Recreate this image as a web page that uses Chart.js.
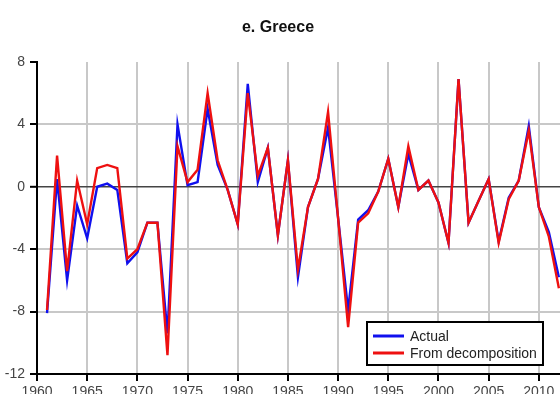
<!DOCTYPE html>
<html>
<head>
<meta charset="utf-8">
<script src="https://cdn.jsdelivr.net/npm/chart.js@4.4.1/dist/chart.umd.min.js"></script>
<style>
  html, body { margin: 0; padding: 0; background: #ffffff; overflow: hidden; }
  #wrap { position: relative; width: 609px; height: 394px; }
</style>
</head>
<body>
<div id="wrap"><canvas id="c"></canvas></div>
<script>
// Greece: annual values, actual vs. reconstructed from the decomposition
const titleText = 'e. Greece';
const years = [1961,1962,1963,1964,1965,1966,1967,1968,1969,1970,
               1971,1972,1973,1974,1975,1976,1977,1978,1979,1980,
               1981,1982,1983,1984,1985,1986,1987,1988,1989,1990,
               1991,1992,1993,1994,1995,1996,1997,1998,1999,2000,
               2001,2002,2003,2004,2005,2006,2007,2008,2009,2010,
               2011,2012];
const actual = [-8.1, 0.5,-6.0,-1.2,-3.3, 0.0, 0.2,-0.2,-4.9,-4.2,
                -2.3,-2.3,-9.4, 4.0, 0.1, 0.3, 5.0, 1.4,-0.2,-2.4,
                 6.6, 0.3, 2.5,-3.1, 1.7,-5.8,-1.3, 0.5, 3.8,-2.0,
                -7.9,-2.1,-1.5,-0.3, 1.8,-1.3, 2.1,-0.2, 0.4,-1.0,
                -3.6, 6.9,-2.3,-0.9, 0.5,-3.5,-0.7, 0.4, 3.9,-1.3,
                -2.9,-5.8];
const fromDecomposition = [-7.9, 2.0,-5.4, 0.4,-2.4, 1.2, 1.4, 1.2,-4.6,-4.0,
                -2.3,-2.3,-10.8, 2.6, 0.3, 1.1, 6.0, 1.7,-0.2,-2.4,
                 6.0, 0.7, 2.5,-3.1, 1.7,-5.3,-1.3, 0.5, 4.8,-2.0,
                -9.0,-2.3,-1.7,-0.3, 1.8,-1.3, 2.6,-0.2, 0.4,-1.0,
                -3.6, 6.9,-2.3,-0.9, 0.5,-3.6,-0.8, 0.4, 3.6,-1.3,
                -3.2,-6.5];
const seriesNames = ['Actual', 'From decomposition'];
const yTicks = [8, 4, 0, -4, -8, -12];

const FONT = "'Liberation Sans', Arial, sans-serif";

// Title and in-plot legend box
const decorations = {
  id: 'decorations',
  afterDraw(chart) {
    const ctx = chart.ctx;
    ctx.save();
    ctx.fillStyle = '#111';
    ctx.font = 'bold 16px ' + FONT;
    ctx.textAlign = 'center';
    ctx.textBaseline = 'middle';
    ctx.fillText(titleText, 278, 28);

    const bx = 367, by = 322, bw = 176, bh = 43;
    ctx.fillStyle = '#ffffff';
    ctx.fillRect(bx, by, bw, bh);
    ctx.strokeStyle = '#000';
    ctx.lineWidth = 2;
    ctx.strokeRect(bx, by, bw, bh);
    ctx.font = '14px ' + FONT;
    ctx.textAlign = 'left';
    chart.data.datasets.forEach((ds, i) => {
      const y = by + 14 + i * 17;
      ctx.strokeStyle = ds.borderColor;
      ctx.lineWidth = 3;
      ctx.beginPath();
      ctx.moveTo(bx + 6, y);
      ctx.lineTo(bx + 37, y);
      ctx.stroke();
      ctx.fillStyle = '#222';
      ctx.fillText(ds.label, bx + 43, y + 1);
    });
    ctx.restore();
  }
};

new Chart(document.getElementById('c'), {
  type: 'line',
  data: {
    datasets: [
      {
        label: seriesNames[0],
        data: years.map((yr, i) => ({ x: yr, y: actual[i] })),
        borderColor: '#1010ee',
        borderWidth: 2.4,
        pointRadius: 0,
        tension: 0,
        order: 2
      },
      {
        label: seriesNames[1],
        data: years.map((yr, i) => ({ x: yr, y: fromDecomposition[i] })),
        borderColor: '#ee1010',
        borderWidth: 2.4,
        pointRadius: 0,
        tension: 0,
        order: 1
      }
    ]
  },
  options: {
    responsive: true,
    maintainAspectRatio: false,
    animation: false,
    devicePixelRatio: 1,
    layout: { padding: { top: 62, right: 20, left: 0, bottom: 0 } },
    plugins: {
      legend: { display: false },
      title: { display: false },
      tooltip: { enabled: false }
    },
    scales: {
      x: {
        type: 'linear',
        min: 1960,
        max: 2015,
        afterFit(scale) { scale.height = 20; },
        ticks: {
          stepSize: 5,
          autoSkip: false,
          maxRotation: 0,
          padding: 3,
          color: '#444',
          font: { family: FONT, size: 14 },
          callback: v => String(v)
        },
        grid: {
          color: '#c8c8c8',
          lineWidth: 2,
          tickColor: '#000',
          tickLength: 7,
          tickWidth: 2
        },
        border: { display: true, color: '#000', width: 2 }
      },
      y: {
        min: -12,
        max: 8,
        afterFit(scale) { scale.width = 37; },
        afterBuildTicks(scale) { scale.ticks = yTicks.map(v => ({ value: v })); },
        ticks: {
          padding: 5,
          color: '#444',
          font: { family: FONT, size: 14 },
          callback: v => String(v)
        },
        grid: {
          color: ctx => {
            const v = ctx.tick ? ctx.tick.value : null;
            if (v === 0) return '#444';
            if (v === 8 || v === -12) return 'rgba(0,0,0,0)';
            return '#c8c8c8';
          },
          lineWidth: ctx => (ctx.tick && ctx.tick.value === 0 ? 1.6 : 2),
          tickColor: '#000',
          tickLength: 7,
          tickWidth: 2
        },
        border: { display: true, color: '#000', width: 2 }
      }
    }
  },
  plugins: [decorations]
});
</script>
</body>
</html>
